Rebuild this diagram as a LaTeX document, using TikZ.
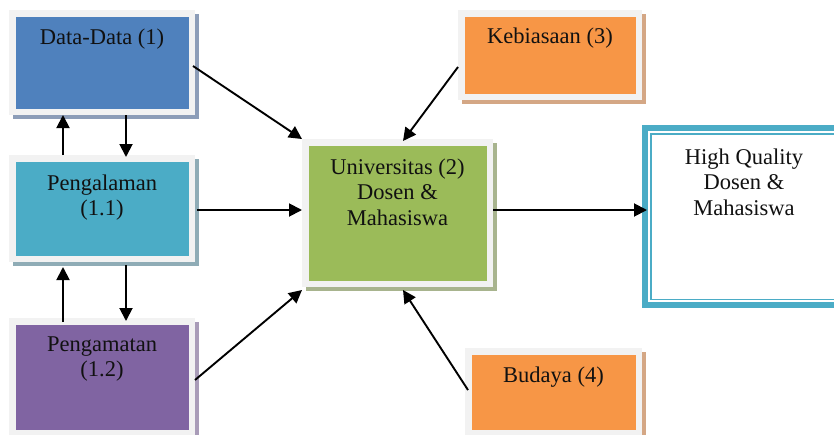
\documentclass[tikz,border=0pt]{standalone}
\usepackage{fontspec}
\setmainfont{Liberation Serif}
\usetikzlibrary{calc,arrows.meta}

\definecolor{framegray}{HTML}{F2F2F2}
\definecolor{datablue}{HTML}{4F81BD}
\definecolor{datashade}{HTML}{8C9DB8}
\definecolor{pengteal}{HTML}{4BACC6}
\definecolor{pengshade}{HTML}{8FACB6}
\definecolor{pgmpurple}{HTML}{8064A2}
\definecolor{pgmshade}{HTML}{A99CB8}
\definecolor{univgreen}{HTML}{9BBB59}
\definecolor{univshade}{HTML}{A8B48E}
\definecolor{boxorange}{HTML}{F79646}
\definecolor{orangeshade}{HTML}{D4A785}
\definecolor{hqblue}{HTML}{4BACC6}
\definecolor{txtcol}{HTML}{111111}

\tikzset{
  framedbox/.style 2 args={draw=framegray, line width=6.5pt, fill=#1, inner sep=0pt,
    preaction={draw=#2, fill=#2, transform canvas={shift={(4pt,-4pt)}}}},
  boxlabel/.style={anchor=north, inner sep=0pt, align=center, text=txtcol,
    font=\fontsize{22.5}{25.5}\selectfont},
  arr/.style={line width=1.9pt, -{Triangle[length=13pt,width=13pt]}}
}

\begin{document}
\begin{tikzpicture}[x=1pt,y=-1pt]
\useasboundingbox (0,0) rectangle (834,434);

% boxes
\node[framedbox={datablue}{datashade}, minimum width=179.5pt, minimum height=98.5pt] (data) at (102,62.5) {};
\node[framedbox={pengteal}{pengshade}, minimum width=179.5pt, minimum height=100.5pt] (peng) at (102,208.5) {};
\node[framedbox={pgmpurple}{pgmshade}, minimum width=179.5pt, minimum height=111.5pt] (pgm) at (102,377) {};
\node[framedbox={univgreen}{univshade}, minimum width=184.5pt, minimum height=141.5pt] (univ) at (397.5,213) {};
\node[framedbox={boxorange}{orangeshade}, minimum width=177.5pt, minimum height=83.5pt] (keb) at (550,55) {};
\node[framedbox={boxorange}{orangeshade}, minimum width=170.5pt, minimum height=81.5pt] (bud) at (553.5,392) {};
\node[draw=hqblue, fill=white, line width=6pt, inner sep=0pt, minimum width=200pt, minimum height=177pt] (hq) at (745,216.5) {};
\draw[hqblue, line width=1.5pt] ($(hq.north west)+(8.75,8.75)$) rectangle ($(hq.south east)+(-8.75,-8.75)$);

% labels
\node[boxlabel] at ($(data.north)+(0,16.5)$) {\strut Data-Data (1)};
\node[boxlabel] at ($(peng.north)+(0,17)$) {\strut Pengalaman\\(1.1)};
\node[boxlabel] at ($(pgm.north)+(0,15)$) {\strut Pengamatan\\(1.2)};
\node[boxlabel] at ($(univ.north)+(0,17)$) {\strut Universitas (2)\\Dosen \&\\Mahasiswa};
\node[boxlabel] at ($(keb.north)+(0,15.5)$) {\strut Kebiasaan (3)};
\node[boxlabel] at ($(bud.north)+(0,16.5)$) {\strut Budaya (4)};
\node[boxlabel] at ($(hq.north)+(-1,21)$) {\strut High Quality\\Dosen \&\\Mahasiswa};

% connectors into the university box
\draw[arr] ($(data.east)+(-2,3.5)$) -- (univ.north west);
\draw[arr] ($(peng.east)+(2,1.5)$) coordinate (p1) -- (p1 -| univ.west);
\draw[arr] ($(pgm.east)+(0,3)$) -- ($(univ.south west)+(0,3)$);
\draw[arr] ($(keb.west)+(0,12)$) -- ($(univ.north)+(5.5,2)$);
\draw[arr] ($(bud.west)+(3,-2)$) -- ($(univ.south)+(5.5,3)$);
\draw[arr] ($(univ.east)+(0,-3)$) coordinate (u1) -- ($(u1 -| hq.west)+(5,0)$);

% vertical links on the left
\draw[arr] ($(peng.north west)+(54,0)$) coordinate (a1) -- (a1 |- data.south);
\draw[arr] ($(data.south west)+(117,0)$) coordinate (a2) -- ($(a2 |- peng.north)+(0,2)$);
\draw[arr] ($(pgm.north west)+(54,4)$) coordinate (a3) -- ($(a3 |- peng.south)+(0,5)$);
\draw[arr] ($(peng.south west)+(117,3)$) coordinate (a4) -- ($(a4 |- pgm.north)+(0,3)$);
\end{tikzpicture}
\end{document}
